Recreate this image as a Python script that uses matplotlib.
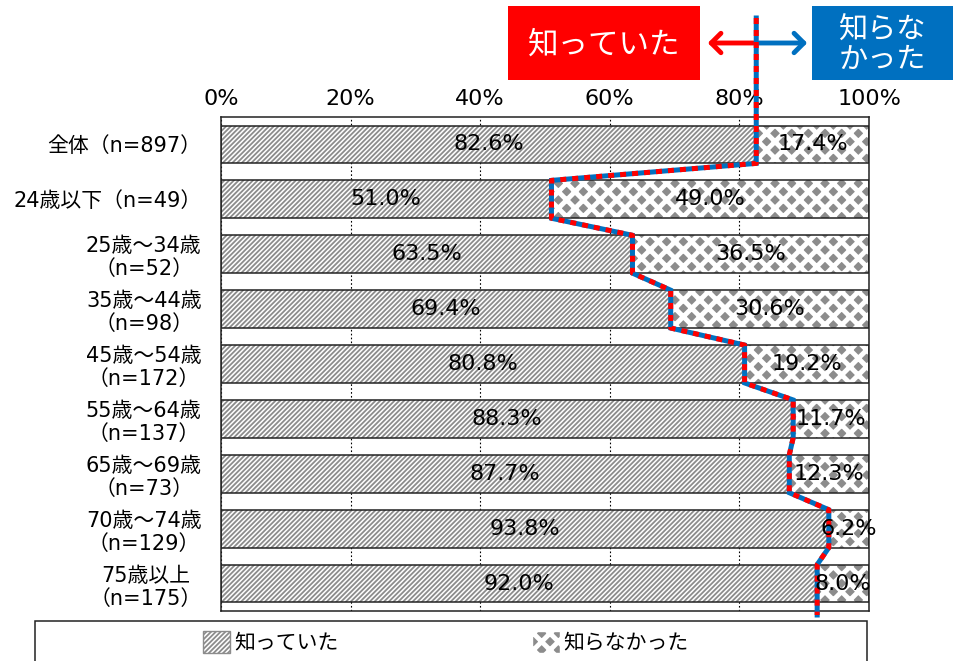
import numpy as np
import matplotlib as mpl
import matplotlib.pyplot as plt
from matplotlib.patches import Patch, Rectangle

plt.rcParams['font.family'] = ['DejaVu Sans', 'Noto Sans CJK JP']

# data
categories = ['全体（n=897）', '24歳以下（n=49）', '25歳～34歳\n（n=52）', '35歳～44歳\n（n=98）',
              '45歳～54歳\n（n=172）', '55歳～64歳\n（n=137）', '65歳～69歳\n（n=73）',
              '70歳～74歳\n（n=129）', '75歳以上\n（n=175）']
knew = [82.6, 51.0, 63.5, 69.4, 80.8, 88.3, 87.7, 93.8, 92.0]
didnt = [17.4, 49.0, 36.5, 30.6, 19.2, 11.7, 12.3, 6.2, 8.0]
legend_labels = ['知っていた', '知らなかった']
xticks = [0, 20, 40, 60, 80, 100]

W, H = 957, 661
fig = plt.figure(figsize=(W / 100, H / 100), dpi=100)
ax_l, ax_r, ax_t, ax_b = 221, 869, 117, 611
ax = fig.add_axes([ax_l / W, (H - ax_b) / H, (ax_r - ax_l) / W, (ax_b - ax_t) / H])

n = len(categories)
y = np.arange(n)
bh = 0.69
gray = '#8c8c8c'
lw_stripe, lw_diam = 1.3, 3.5

# pixel -> data helpers (for annotations outside the axes)
def px_x(px):
    return (px - ax_l) / (ax_r - ax_l) * 100

def px_y(py):
    return -0.5 + (py - ax_t) / ((ax_b - ax_t) / n)

def hatch_lw(bars, lw):
    for p in bars:
        if hasattr(p, 'set_hatch_linewidth'):
            p.set_hatch_linewidth(lw)

with mpl.rc_context({'hatch.linewidth': lw_stripe}):
    b1 = ax.barh(y, knew, height=bh, color='white', edgecolor=gray, hatch='///////', linewidth=0, zorder=2)
hatch_lw(b1, lw_stripe)
with mpl.rc_context({'hatch.linewidth': lw_diam}):
    b2 = ax.barh(y, didnt, left=knew, height=bh, color=gray, edgecolor='white', hatch='xx', linewidth=0, zorder=2)
hatch_lw(b2, lw_diam)
ax.barh(y, knew, height=bh, fill=False, edgecolor='#222222', linewidth=1.1, zorder=3)
ax.barh(y, didnt, left=knew, height=bh, fill=False, edgecolor='#222222', linewidth=1.1, zorder=3)

for i in range(n):
    ax.text(knew[i] / 2, i, f'{knew[i]:.1f}%', ha='center', va='center', fontsize=16, zorder=6)
    ax.text(knew[i] + didnt[i] / 2, i, f'{didnt[i]:.1f}%', ha='center', va='center', fontsize=16, zorder=6)

# red/blue step line following the "knew" boundary
lx = [knew[0]]
ly = [px_y(18)]
for i in range(n):
    lx += [knew[i], knew[i]]
    ly += [i - bh / 2, i + bh / 2]
lx.append(knew[-1])
ly.append(px_y(615))
ax.plot(lx, ly, color='#0070c0', lw=3.6, clip_on=False, zorder=4, solid_joinstyle='miter')
ax.plot(lx, ly, color='#ff0000', lw=3.6, clip_on=False, zorder=4, linestyle=(0, (1.2, 1.2)))

ax.set_xlim(0, 100)
ax.set_ylim(n - 0.5, -0.5)
ax.set_xticks(xticks)
ax.set_xticklabels([f'{t}%' for t in xticks])
ax.set_yticks(y)
ax.set_yticklabels(categories)
for lab in ax.get_yticklabels():
    lab.set_multialignment('center')
ax.xaxis.tick_top()
ax.tick_params(axis='x', length=0, pad=6, labelsize=16)
ax.tick_params(axis='y', length=0, pad=14, labelsize=15)
ax.xaxis.grid(True, linestyle=(0, (1.5, 2)), color='black', lw=0.8)
ax.set_axisbelow(True)
for s in ax.spines.values():
    s.set_linewidth(1.1)
    s.set_color('#222222')

# arrows and labels on top
ay = px_y(43)
ax.annotate('', xy=(px_x(705), ay), xytext=(knew[0], ay), annotation_clip=False,
            arrowprops=dict(arrowstyle='->,head_length=0.7,head_width=0.7', color='#ff0000', lw=3.5))
ax.annotate('', xy=(px_x(810), ay), xytext=(knew[0], ay), annotation_clip=False,
            arrowprops=dict(arrowstyle='->,head_length=0.7,head_width=0.7', color='#0070c0', lw=3.5))

def fig_box(x0, y0, x1, y1, color):
    fig.patches.append(Rectangle((x0 / W, 1 - y1 / H), (x1 - x0) / W, (y1 - y0) / H,
                                 transform=fig.transFigure, facecolor=color, edgecolor='none'))

fig_box(508, 6, 700, 80, '#ff0000')
fig.text(604 / W, 1 - 45 / H, '知っていた', color='white', fontsize=22, ha='center', va='center')
fig_box(812, 6, 953, 80, '#0070c0')
fig.text(882 / W, 1 - 45 / H, '知らな\nかった', color='white', fontsize=21, ha='center', va='center',
         linespacing=1.05)

# legend
with mpl.rc_context({'hatch.linewidth': lw_stripe}):
    h1 = Patch(facecolor='white', edgecolor=gray, hatch='///////')
with mpl.rc_context({'hatch.linewidth': lw_diam}):
    h2 = Patch(facecolor=gray, edgecolor='white', hatch='xx')
leg = fig.legend([h1, h2], legend_labels, ncol=2, loc='center', bbox_to_anchor=(446 / W, 1 - 642 / H),
                 frameon=False, fontsize=15, handlelength=1.3, handleheight=1.2, handletextpad=0.2,
                 columnspacing=9.3)
hatch_lw(leg.get_patches()[:1], lw_stripe)
hatch_lw(leg.get_patches()[1:], lw_diam)
fig.patches.append(Rectangle((35 / W, 1 - 675 / H), (867 - 35) / W, (675 - 621) / H,
                             transform=fig.transFigure, facecolor='none', edgecolor='#222222', lw=1.1))

fig.savefig('out.png', dpi=100)
